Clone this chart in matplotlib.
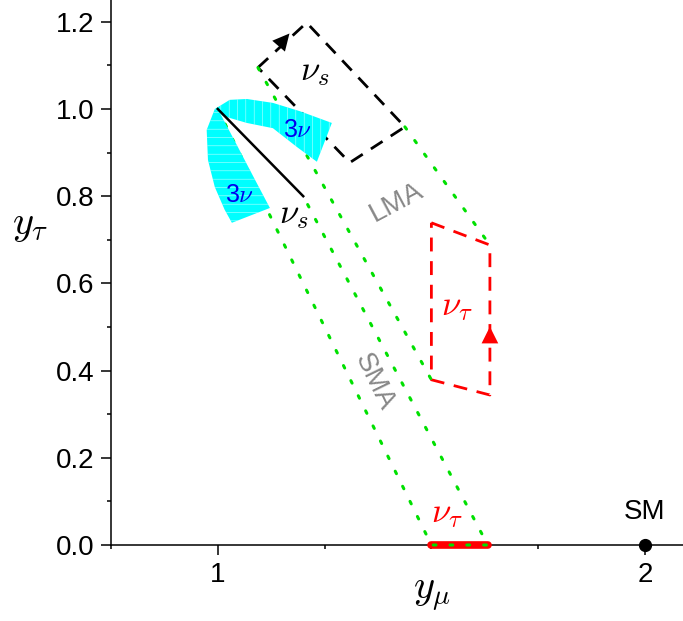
import numpy as np
import matplotlib
matplotlib.use('Agg')
import matplotlib.pyplot as plt
from matplotlib.ticker import FixedLocator

plt.rcParams['font.family'] = ['Liberation Sans', 'DejaVu Sans']
plt.rcParams['mathtext.fontset'] = 'cm'
plt.rcParams['hatch.linewidth'] = 0.35

# 数据 (y_mu, y_tau)
nus_line_x = [1.0, 1.2]
nus_line_y = [1.0, 0.8]
nut_seg_x = [1.5, 1.632]
nut_seg_y = [0.0, 0.0]

# 3nu 区域
band_up_x = [0.993, 1.028, 1.068, 1.129, 1.192, 1.267, 1.232, 1.185, 1.129, 1.068, 1.012, 0.993]
band_up_y = [1.0, 1.021, 1.023, 1.014, 0.995, 0.968, 0.879, 0.913, 0.956, 0.968, 0.984, 1.0]
band_lo_x = [0.993, 0.974, 0.977, 0.993, 1.016, 1.033, 1.122, 1.087, 1.047, 1.005, 0.993]
band_lo_y = [1.0, 0.952, 0.883, 0.821, 0.769, 0.739, 0.773, 0.838, 0.913, 0.991, 1.0]

# LMA 方框
box_s_x = [1.094, 1.208, 1.438, 1.309, 1.094]
box_s_y = [1.095, 1.198, 0.959, 0.877, 1.095]
box_t_x = [1.5, 1.637, 1.637, 1.5, 1.5]
box_t_y = [0.739, 0.688, 0.344, 0.379, 0.739]

# 绿色虚线
sma_x = [1.0, 1.5, 1.632, 1.2]
sma_y = [1.0, 0.0, 0.0, 0.8]
lma1_x = [1.094, 1.5]
lma1_y = [1.095, 0.379]
lma2_x = [1.438, 1.637]
lma2_y = [0.959, 0.688]

sm_x, sm_y = 2.0, 0.0

fig = plt.figure(figsize=(6.83, 6.21), dpi=100)
ax = fig.add_axes([0.1625, 0.1224, 0.8375, 0.8776])

green = '#00e000'
dot = (0, (0.9, 4.6))
ax.plot(sma_x, sma_y, color=green, lw=2.2, ls=dot, dash_capstyle='round', zorder=3.5, clip_on=False)
ax.plot(lma1_x, lma1_y, color=green, lw=2.2, ls=dot, dash_capstyle='round', zorder=3.5)
ax.plot(lma2_x, lma2_y, color=green, lw=2.2, ls=dot, dash_capstyle='round', zorder=3.5)

ax.plot(nut_seg_x, nut_seg_y, color='red', lw=5.5, solid_capstyle='round', zorder=3, clip_on=False)

ax.plot(box_s_x, box_s_y, color='black', lw=2, ls=(0, (5, 3.5)), zorder=2)
ax.plot(box_t_x, box_t_y, color='red', lw=2, ls=(0, (5, 3.5)), zorder=2)

ax.fill(band_up_x, band_up_y, facecolor='#00ffff', edgecolor='#d8ffff', lw=0, hatch='||', zorder=4)
ax.fill(band_lo_x, band_lo_y, facecolor='#00ffff', edgecolor='#d8ffff', lw=0, hatch='--', zorder=4)

ax.plot(nus_line_x, nus_line_y, color='black', lw=1.8, zorder=5)

ax.annotate('', xy=(1.172, 1.178), xytext=(1.13, 1.13),
            arrowprops=dict(arrowstyle='-|>', color='black', lw=0, mutation_scale=30), zorder=6)
ax.annotate('', xy=(1.637, 0.507), xytext=(1.637, 0.46),
            arrowprops=dict(arrowstyle='-|>', color='red', lw=0, mutation_scale=30), zorder=6)

ax.plot([sm_x], [sm_y], 'o', color='black', ms=8.5, clip_on=False, zorder=6)

ax.text(1.227, 1.085, r'$\nu_s$', fontsize=25, ha='center', va='center', zorder=7)
ax.text(1.178, 0.758, r'$\nu_s$', fontsize=25, ha='center', va='center', zorder=7)
ax.text(1.187, 0.952, r'3$\nu$', fontsize=18, color='#0000ee', ha='center', va='center', zorder=7)
ax.text(1.052, 0.803, r'3$\nu$', fontsize=18, color='#0000ee', ha='center', va='center', zorder=7)
ax.text(1.56, 0.546, r'$\nu_\tau$', fontsize=25, color='red', ha='center', va='center', zorder=7)
ax.text(1.536, 0.072, r'$\nu_\tau$', fontsize=25, color='red', ha='center', va='center', zorder=7)
ax.text(1.419, 0.785, 'LMA', fontsize=20, color='#888888', rotation=28, ha='center', va='center', zorder=7)
ax.text(1.366, 0.374, 'SMA', fontsize=20, color='#888888', rotation=-64, ha='center', va='center', zorder=7)
ax.text(2.0, 0.076, 'SM', fontsize=20, ha='center', va='center', zorder=7)

ax.text(-0.142, 0.587, r'$y_\tau$', fontsize=29, transform=ax.transAxes, ha='center', va='center')
ax.text(0.561, -0.092, r'$y_\mu$', fontsize=29, transform=ax.transAxes, ha='center', va='center')

ax.set_xlim(0.75, 2.089)
ax.set_ylim(0, 1.25)
ax.xaxis.set_major_locator(FixedLocator([1, 2]))
ax.xaxis.set_minor_locator(FixedLocator([0.75, 1.25, 1.5, 1.75]))
ax.yaxis.set_major_locator(FixedLocator([0, 0.2, 0.4, 0.6, 0.8, 1.0, 1.2]))
ax.yaxis.set_minor_locator(FixedLocator([0.1, 0.3, 0.5, 0.7, 0.9, 1.1]))
ax.set_yticklabels(['0.0', '0.2', '0.4', '0.6', '0.8', '1.0', '1.2'])
ax.tick_params(which='major', direction='out', length=7, width=1.1, labelsize=20, pad=5)
ax.tick_params(which='minor', direction='out', length=3, width=1.1)
for s in ['top', 'right']:
    ax.spines[s].set_visible(False)
for s in ['left', 'bottom']:
    ax.spines[s].set_linewidth(1.1)

fig.savefig('out.png', dpi=100)
